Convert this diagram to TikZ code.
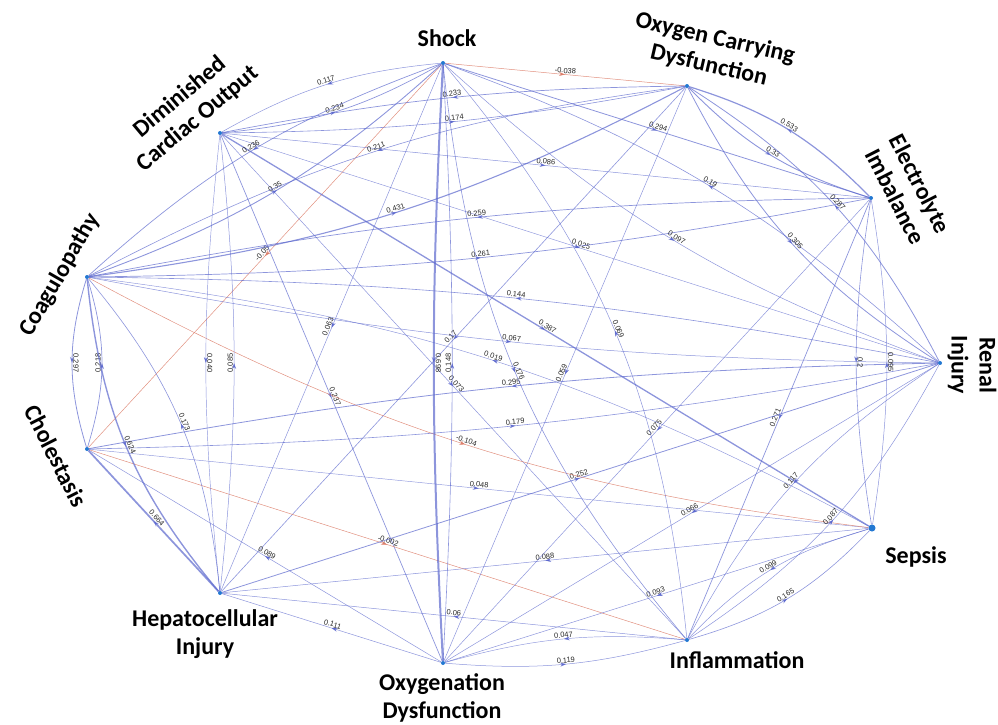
\documentclass[tikz,border=0pt]{standalone}
\usepackage{fontspec}
\setmainfont{Carlito}
\newfontfamily\lblfont{Liberation Sans}
\usetikzlibrary{arrows.meta,decorations.markings}
\definecolor{eblue}{RGB}{92,104,205}
\definecolor{ered}{RGB}{220,125,105}
\definecolor{ndot}{RGB}{35,120,210}
\tikzset{
  ndot/.style={circle,fill=ndot,inner sep=0pt,minimum size=4pt},
  nlab/.style={font=\bfseries\fontsize{24}{28}\selectfont,align=center,inner sep=0pt},
  edge/.style={draw=eblue,draw opacity=0.7,postaction={decorate},
    decoration={markings,mark=at position 0.5 with {\arrow[eblue]{Stealth[length=6pt,width=4pt]}}}},
  redge/.style={draw=ered,draw opacity=0.85,postaction={decorate},
    decoration={markings,mark=at position 0.5 with {\arrow[ered]{Stealth[length=6pt,width=4pt]}}}},
  elbl/.style={midway,sloped,above,inner sep=1pt,font=\lblfont\fontsize{7.5}{7.5}\selectfont,text=black!85}
}
\newcommand{\ed}[6]{\draw[#6,line width=#5pt] (#1) to[bend right=#4] node[elbl]{#3} (#2);}
\begin{document}
\begin{tikzpicture}[x=1pt,y=-1pt]
\useasboundingbox (0,0) rectangle (998,724);
% nodes
\node[ndot] (S)  at (443,63) {};
\node[ndot] (OC) at (687,86) {};
\node[ndot] (EI) at (871,198) {};
\node[ndot] (RI) at (940,363) {};
\node[ndot,minimum size=7pt] (SE) at (872,528) {};
\node[ndot] (IN) at (687,640) {};
\node[ndot] (OD) at (443,663) {};
\node[ndot] (HI) at (220,593) {};
\node[ndot] (CH) at (87,449) {};
\node[ndot] (CO) at (87,277) {};
\node[ndot] (DC) at (220,133) {};
% labels
\node[nlab] (tS)  at (447,38) {Shock};
\node[nlab,rotate=-13] (tOC) at (712,52) {Oxygen Carrying\\Dysfunction};
\node[nlab,rotate=-63] (tEI) at (908,190) {Electrolyte\\Imbalance};
\node[nlab,rotate=-90] (tRI) at (972,365) {Renal\\Injury};
\node[nlab] (tSE) at (916,557) {Sepsis};
\node[nlab] (tIN) at (737,660) {Inflammation};
\node[nlab] (tOD) at (442,698) {Oxygenation\\Dysfunction};
\node[nlab] (tHI) at (205,634) {Hepatocellular\\Injury};
\node[nlab,rotate=-63] (tCH) at (56,456) {Cholestasis};
\node[nlab,rotate=60] (tCO) at (60,275) {Coagulopathy};
\node[nlab,rotate=40] (tDC) at (189,108) {Diminished\\Cardiac Output};
% straight edges
\ed{S}{CH}{-0.05}{0}{0.5}{redge}
\ed{S}{OC}{-0.038}{0}{0.5}{redge}
\ed{S}{EI}{0.294}{0}{0.8}{edge}
\ed{DC}{EI}{0.086}{0}{0.5}{edge}
\ed{DC}{RI}{0.025}{0}{0.45}{edge}
\ed{DC}{SE}{0.387}{0}{1.3}{edge}
\ed{OC}{HI}{0.17}{0}{0.6}{edge}
\ed{DC}{IN}{0.073}{0}{0.5}{edge}
\ed{S}{HI}{0.063}{0}{0.5}{edge}
\ed{DC}{OD}{0.237}{0}{0.7}{edge}
\ed{HI}{CH}{0.664}{0}{1.7}{edge}
\ed{OD}{CH}{0.089}{0}{0.5}{edge}
\ed{CH}{IN}{-0.002}{0}{0.5}{redge}
\ed{IN}{HI}{0.06}{0}{0.5}{edge}
\ed{OD}{HI}{0.111}{0}{0.5}{edge}
\ed{SE}{HI}{0.088}{0}{0.5}{edge}
\ed{SE}{OD}{0.093}{0}{0.5}{edge}
\ed{RI}{OD}{0.066}{0}{0.5}{edge}
\ed{EI}{IN}{0.271}{0}{0.7}{edge}
\ed{OC}{OD}{0.059}{0}{0.5}{edge}
\ed{EI}{OD}{0.075}{0}{0.5}{edge}
\ed{HI}{RI}{0.252}{0}{0.8}{edge}
\ed{CH}{SE}{0.048}{0}{0.45}{edge}
% curved (mutual) edges
\ed{S}{DC}{0.117}{12}{0.5}{edge}
\ed{DC}{S}{0.234}{12}{0.7}{edge}
\ed{S}{CO}{0.236}{11}{0.7}{edge}
\ed{CO}{S}{0.35}{11}{0.9}{edge}
\ed{OC}{DC}{0.233}{5}{0.7}{edge}
\ed{DC}{OC}{0.174}{5}{0.6}{edge}
\ed{OC}{CO}{0.211}{10}{0.6}{edge}
\ed{CO}{OC}{0.431}{10}{1.1}{edge}
\ed{EI}{CO}{0.259}{5}{0.7}{edge}
\ed{CO}{EI}{0.261}{5}{0.7}{edge}
\ed{RI}{S}{0.19}{11}{0.6}{edge}
\ed{S}{RI}{0.097}{11}{0.5}{edge}
\ed{EI}{OC}{0.533}{14}{1.2}{edge}
\ed{OC}{EI}{0.33}{14}{0.9}{edge}
\ed{RI}{OC}{0.287}{15}{0.8}{edge}
\ed{OC}{RI}{0.305}{15}{0.8}{edge}
\ed{RI}{CO}{0.144}{5}{0.6}{edge}
\ed{CO}{RI}{0.067}{5}{0.5}{edge}
\ed{SE}{CO}{0.019}{10.5}{0.45}{edge}
\ed{CO}{SE}{-0.104}{10.5}{0.5}{redge}
\ed{RI}{CH}{0.295}{4.5}{0.8}{edge}
\ed{CH}{RI}{0.179}{4.5}{0.6}{edge}
\ed{S}{OD}{0.698}{3}{2.0}{edge}
\ed{OD}{S}{0.148}{3}{0.6}{edge}
\ed{DC}{HI}{0.040}{6}{0.45}{edge}
\ed{HI}{DC}{0.085}{6}{0.5}{edge}
\ed{CO}{CH}{0.297}{17}{0.8}{edge}
\ed{CH}{CO}{0.218}{17}{0.7}{edge}
\ed{HI}{CO}{0.173}{17}{0.6}{edge}
\ed{CO}{HI}{0.624}{17}{1.4}{edge}
\ed{IN}{OD}{0.047}{10}{0.45}{edge}
\ed{OD}{IN}{0.119}{10}{0.5}{edge}
\ed{RI}{IN}{0.117}{14}{0.5}{edge}
\ed{IN}{RI}{0.087}{14}{0.5}{edge}
\ed{IN}{SE}{0.165}{15}{0.6}{edge}
\ed{SE}{IN}{0.099}{15}{0.5}{edge}
\ed{EI}{SE}{0.2}{9}{0.6}{edge}
\ed{SE}{EI}{0.095}{9}{0.5}{edge}
\ed{S}{IN}{0.176}{17}{0.6}{edge}
\ed{IN}{S}{0.069}{17}{0.5}{edge}
\end{tikzpicture}
\end{document}
